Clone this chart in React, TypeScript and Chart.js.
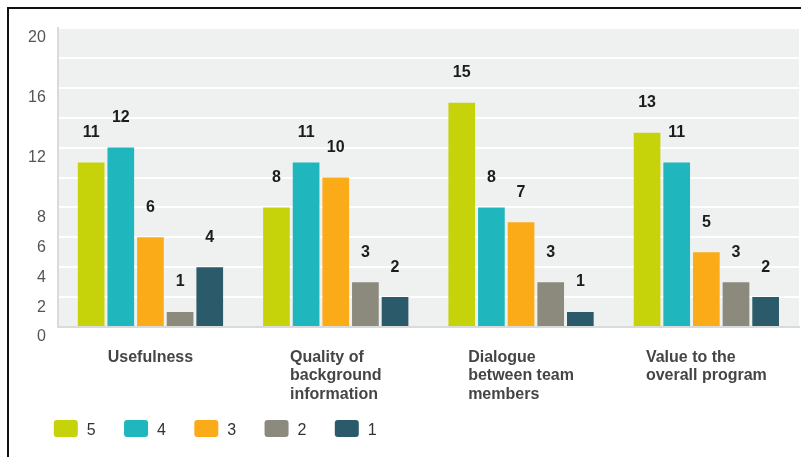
import React, { useEffect, useRef } from "react";
import { Chart, registerables } from "chart.js";

Chart.register(...registerables);

// ---- data ----
const categories: string[][] = [
  ["Usefulness"],
  ["Quality of", "background", "information"],
  ["Dialogue", "between team", "members"],
  ["Value to the", "overall program"],
];
const seriesNames = ["5", "4", "3", "2", "1"];
const rating5 = [11, 8, 15, 13];
const rating4 = [12, 11, 8, 11];
const rating3 = [6, 10, 7, 5];
const rating2 = [1, 3, 3, 3];
const rating1 = [4, 2, 1, 2];
const seriesColors = ["#c6d30b", "#1fb7bd", "#fbab18", "#8b8a7c", "#2b5b6a"];
const yTickLabels = [0, 2, 4, 6, 8, 12, 16, 20];

const FONT = "'Liberation Sans', Arial, Helvetica, sans-serif";

const plotBackground = {
  id: "plotBackground",
  beforeDraw(chart: any) {
    const { ctx, chartArea } = chart;
    ctx.save();
    ctx.fillStyle = "#eff1f1";
    ctx.fillRect(chartArea.left, chartArea.top, chartArea.right - chartArea.left, chartArea.bottom - chartArea.top);
    ctx.restore();
  },
};

const valueLabels = {
  id: "valueLabels",
  afterDatasetsDraw(chart: any) {
    const { ctx } = chart;
    ctx.save();
    ctx.font = `bold 16px ${FONT}`;
    ctx.fillStyle = "#1c1c1c";
    ctx.textAlign = "center";
    ctx.textBaseline = "middle";
    chart.data.datasets.forEach((ds: any, i: number) => {
      const meta = chart.getDatasetMeta(i);
      meta.data.forEach((bar: any, j: number) => {
        ctx.fillText(String(ds.data[j]), bar.x, bar.y - 30);
      });
    });
    ctx.restore();
  },
};

const categoryLabels = {
  id: "categoryLabels",
  afterDraw(chart: any) {
    const { ctx, chartArea } = chart;
    const xScale = chart.scales.x;
    ctx.save();
    ctx.font = `bold 16px ${FONT}`;
    ctx.fillStyle = "#454545";
    ctx.textAlign = "left";
    ctx.textBaseline = "alphabetic";
    categories.forEach((lines, i) => {
      const cx = xScale.getPixelForValue(i);
      const w = Math.max(...lines.map((l) => ctx.measureText(l).width));
      const left = cx - w / 2;
      lines.forEach((l, k) => {
        ctx.fillText(l, left, chartArea.bottom + 35 + k * 18.3);
      });
    });
    ctx.restore();
  },
};

const customLegend = {
  id: "customLegend",
  afterDraw(chart: any) {
    const { ctx, chartArea } = chart;
    ctx.save();
    ctx.font = `16px ${FONT}`;
    ctx.textAlign = "left";
    ctx.textBaseline = "alphabetic";
    const y = chartArea.bottom + 93;
    chart.data.datasets.forEach((ds: any, i: number) => {
      const x = chartArea.left - 4 + i * 70.25;
      ctx.fillStyle = ds.backgroundColor;
      ctx.beginPath();
      if ((ctx as any).roundRect) (ctx as any).roundRect(x, y, 24, 17, 3);
      else ctx.rect(x, y, 24, 17);
      ctx.fill();
      ctx.fillStyle = "#333333";
      ctx.fillText(ds.label, x + 33, y + 15);
    });
    ctx.restore();
  },
};

export default function App() {
  const ref = useRef<HTMLCanvasElement>(null);

  useEffect(() => {
    const seriesValues = [rating5, rating4, rating3, rating2, rating1];
    const chart = new Chart(ref.current as HTMLCanvasElement, {
      type: "bar",
      data: {
        labels: categories.map((c) => c.join(" ")),
        datasets: seriesNames.map((name, i) => ({
          label: name,
          data: seriesValues[i],
          backgroundColor: seriesColors[i],
          borderWidth: 0,
          categoryPercentage: 0.8,
          barPercentage: 0.9,
        })),
      },
      options: {
        responsive: true,
        maintainAspectRatio: false,
        animation: false,
        layout: { padding: { left: 7, right: 2, top: 19, bottom: 130 } },
        plugins: {
          legend: { display: false },
          tooltip: { enabled: false },
        },
        scales: {
          x: {
            grid: { display: false, drawTicks: false },
            border: { display: true, color: "#d9dbdb", width: 2 },
            ticks: { display: false },
          },
          y: {
            min: 0,
            max: 20,
            afterFit: (s: any) => {
              s.paddingTop = 0;
              s.paddingBottom = 0;
            },
            ticks: {
              stepSize: 2,
              padding: 12,
              labelOffset: 10,
              color: "#555555",
              font: { family: FONT, size: 16 },
              callback: (v: any) => (yTickLabels.includes(Number(v)) ? String(v) : ""),
            },
            grid: {
              color: (c: any) => (c.tick && c.tick.value === 0 ? "rgba(0,0,0,0)" : "#ffffff"),
              lineWidth: 2,
              drawTicks: false,
            },
            border: { display: true, color: "#d9dbdb", width: 2 },
          },
        },
      },
      plugins: [plotBackground, valueLabels, categoryLabels, customLegend],
    });
    return () => chart.destroy();
  }, []);

  return (
    <div
      style={{
        position: "fixed",
        left: 7,
        top: 7,
        right: 0,
        bottom: 0,
        borderTop: "2px solid #111",
        borderLeft: "2px solid #111",
        background: "#ffffff",
      }}
    >
      <div style={{ position: "relative", width: "100%", height: "100%" }}>
        <canvas ref={ref} />
      </div>
    </div>
  );
}
